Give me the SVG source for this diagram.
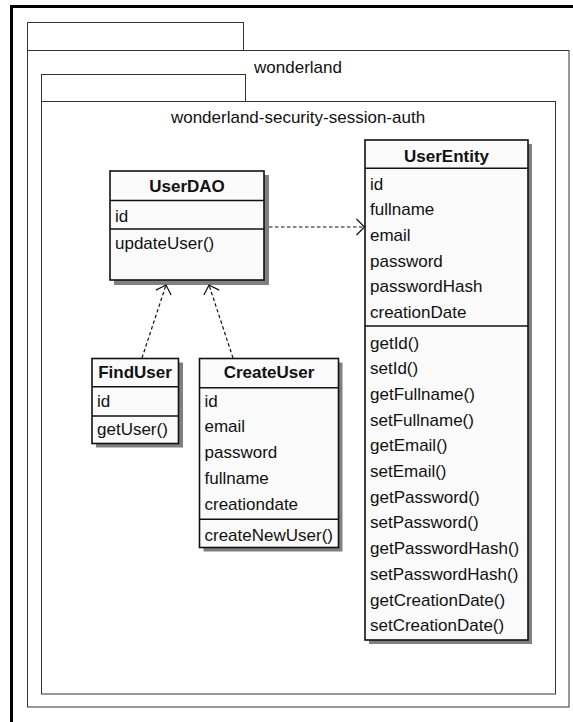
<svg xmlns="http://www.w3.org/2000/svg" width="573" height="722" viewBox="0 0 573 722">
  <style>
    .frame { fill: none; stroke: #000; stroke-width: 3; }
    .pkg { fill: #fff; stroke: #333; stroke-width: 1; }
    .pkglabel { font-family: "Liberation Sans", Arial, sans-serif; font-size: 17px; fill: #111; text-anchor: middle; }
    .shadow { fill: #808080; }
    .box { fill: #fafafa; stroke: #111; stroke-width: 1.6; }
    .sep { stroke: #111; stroke-width: 1.6; }
    .title { font-family: "Liberation Sans", Arial, sans-serif; font-size: 17px; font-weight: bold; fill: #111; text-anchor: middle; }
    .item { font-family: "Liberation Sans", Arial, sans-serif; font-size: 17px; fill: #111; }
    .dep { fill: none; stroke: #111; stroke-width: 1.2; stroke-dasharray: 3.5 2.5; }
  </style>
  <defs>
    <marker id="open" markerUnits="userSpaceOnUse" markerWidth="20" markerHeight="20" refX="0" refY="0" viewBox="-10 -10 20 20" orient="auto" overflow="visible">
      <path d="M -8,-8 L 0,0 L -8,8" fill="none" stroke="#111" stroke-width="1.2" stroke-dasharray="none"/>
    </marker>
  </defs>

  <rect width="573" height="722" fill="#fff"/>
  <!-- outer frame -->
  <rect class="frame" x="11.5" y="6.5" width="600" height="760"/>

  <!-- package: wonderland -->
  <g id="pkg-wonderland">
    <rect class="pkg" x="27.5" y="22.5" width="216" height="28"/>
    <rect class="pkg" x="27.5" y="50.5" width="541.5" height="656.5"/>
    <text class="pkglabel" x="298" y="73">wonderland</text>
  </g>

  <!-- package: wonderland-security-session-auth -->
  <g id="pkg-auth">
    <rect class="pkg" x="41.5" y="74.5" width="204" height="27"/>
    <rect class="pkg" x="41.5" y="101.5" width="514" height="592.5"/>
    <text class="pkglabel" x="298" y="123">wonderland-security-session-auth</text>
  </g>

  <!-- class UserDAO -->
  <g id="UserDAO">
    <rect class="shadow" x="114" y="175" width="155" height="110"/>
    <rect class="box" x="110" y="171" width="154" height="109"/>
    <line class="sep" x1="110" y1="200.5" x2="264" y2="200.5"/>
    <line class="sep" x1="110" y1="229" x2="264" y2="229"/>
    <text class="title" x="187" y="192">UserDAO</text>
    <text class="item" x="115" y="222">id</text>
    <text class="item" x="115" y="249">updateUser()</text>
  </g>

  <!-- class UserEntity -->
  <g id="UserEntity">
    <rect class="shadow" x="369" y="144" width="163" height="500"/>
    <rect class="box" x="365" y="140" width="163" height="500"/>
    <line class="sep" x1="365" y1="168.3" x2="528" y2="168.3"/>
    <line class="sep" x1="365" y1="326" x2="528" y2="326"/>
    <text class="title" x="446.5" y="162">UserEntity</text>
    <text class="item" x="370" y="189.5">id</text>
    <text class="item" x="370" y="215.2">fullname</text>
    <text class="item" x="370" y="240.9">email</text>
    <text class="item" x="370" y="266.6">password</text>
    <text class="item" x="370" y="292.3">passwordHash</text>
    <text class="item" x="370" y="318">creationDate</text>
    <text class="item" x="370" y="348.5">getId()</text>
    <text class="item" x="370" y="374.2">setId()</text>
    <text class="item" x="370" y="399.9">getFullname()</text>
    <text class="item" x="370" y="425.6">setFullname()</text>
    <text class="item" x="370" y="451.3">getEmail()</text>
    <text class="item" x="370" y="477">setEmail()</text>
    <text class="item" x="370" y="502.7">getPassword()</text>
    <text class="item" x="370" y="528.4">setPassword()</text>
    <text class="item" x="370" y="554.1">getPasswordHash()</text>
    <text class="item" x="370" y="579.8">setPasswordHash()</text>
    <text class="item" x="370" y="605.5">getCreationDate()</text>
    <text class="item" x="370" y="631.2">setCreationDate()</text>
  </g>

  <!-- class FindUser -->
  <g id="FindUser">
    <rect class="shadow" x="96" y="362.5" width="87" height="85"/>
    <rect class="box" x="92" y="358.5" width="86.5" height="85"/>
    <line class="sep" x1="92" y1="386.7" x2="178.5" y2="386.7"/>
    <line class="sep" x1="92" y1="416" x2="178.5" y2="416"/>
    <text class="title" x="135" y="378">FindUser</text>
    <text class="item" x="97" y="406.7">id</text>
    <text class="item" x="97" y="435">getUser()</text>
  </g>

  <!-- class CreateUser -->
  <g id="CreateUser">
    <rect class="shadow" x="203.5" y="362.5" width="139" height="189"/>
    <rect class="box" x="199.5" y="358.5" width="139" height="189"/>
    <line class="sep" x1="199.5" y1="387.7" x2="338.5" y2="387.7"/>
    <line class="sep" x1="199.5" y1="519.3" x2="338.5" y2="519.3"/>
    <text class="title" x="269" y="378">CreateUser</text>
    <text class="item" x="204.5" y="406.7">id</text>
    <text class="item" x="204.5" y="432.4">email</text>
    <text class="item" x="204.5" y="458.1">password</text>
    <text class="item" x="204.5" y="483.8">fullname</text>
    <text class="item" x="204.5" y="509.5">creationdate</text>
    <text class="item" x="204.5" y="541">createNewUser()</text>
  </g>

  <!-- dependencies -->
  <g id="connectors">
    <path class="dep" d="M 269,227 L 364.5,227" marker-end="url(#open)"/>
    <path class="dep" d="M 142,358 L 166,285" marker-end="url(#open)"/>
    <path class="dep" d="M 233,358 L 209,285" marker-end="url(#open)"/>
  </g>
</svg>
